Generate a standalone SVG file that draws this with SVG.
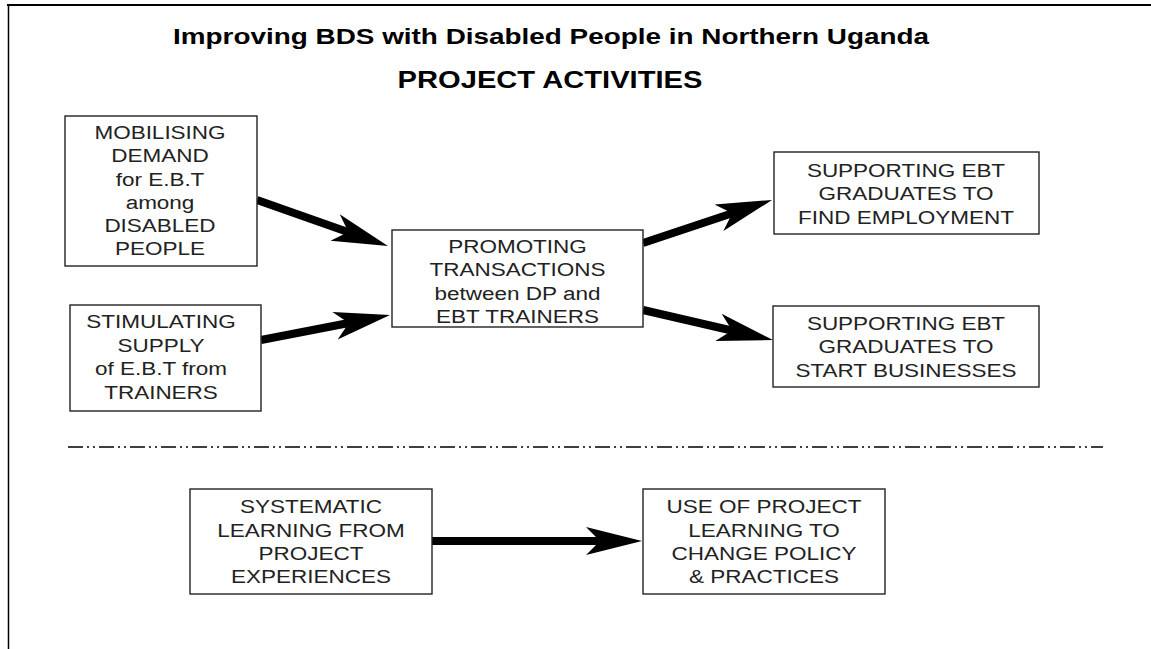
<svg xmlns="http://www.w3.org/2000/svg" width="1151" height="649" viewBox="0 0 1151 649">
  <style>
    .box { fill: #fff; stroke: #222; stroke-width: 1.4; }
    .lbl { font-family: "Liberation Sans", Arial, sans-serif; font-size: 18px; fill: #222; text-anchor: middle; }
    .ttl { font-family: "Liberation Sans", Arial, sans-serif; font-weight: bold; fill: #000; text-anchor: middle; }
    .arrow { stroke: #000; stroke-width: 8; fill: none; marker-end: url(#head); }
    .frame { stroke: #000; fill: none; }
  </style>
  <defs>
    <marker id="head" markerUnits="userSpaceOnUse" markerWidth="56" markerHeight="32" viewBox="0 0 56 32" refX="18" refY="16" orient="auto">
      <path d="M0,2 L56,16 L0,30 L14,16 Z" fill="#000"/>
    </marker>
  </defs>

  <rect width="1151" height="649" fill="#fff"/>

  <!-- page frame -->
  <line class="frame" x1="7" y1="5" x2="1151" y2="5" stroke-width="2.2"/>
  <line class="frame" x1="8.5" y1="4" x2="8.5" y2="649" stroke-width="1.5"/>

  <!-- headings -->
  <g id="title">
    <g transform="translate(551 0) scale(1.24 1)">
      <text class="ttl" x="0" y="44" font-size="22.5">Improving BDS with Disabled People in Northern Uganda</text>
    </g>
    <g transform="translate(550 0) scale(1.24 1)">
      <text class="ttl" x="0" y="88" font-size="23.5">PROJECT ACTIVITIES</text>
    </g>
  </g>

  <!-- connectors -->
  <g id="connectors">
    <line class="arrow" x1="257" y1="200" x2="352.1" y2="233.4"/>
    <line class="arrow" x1="261" y1="340" x2="352.7" y2="322.3"/>
    <line class="arrow" x1="643" y1="243" x2="736" y2="212"/>
    <line class="arrow" x1="643" y1="310" x2="736" y2="331.5"/>
    <line class="arrow" x1="432" y1="541" x2="604" y2="541"/>
  </g>

  <!-- section divider -->
  <line x1="68" y1="447" x2="1103" y2="447" stroke="#000" stroke-width="1.5" stroke-dasharray="15 4 2 4 2 4"/>

  <g id="mobilising">
    <rect class="box" x="65" y="116" width="192" height="150"/>
    <g transform="translate(160 0) scale(1.25 1)">
      <text class="lbl" x="0" y="139">MOBILISING</text>
      <text class="lbl" x="0" y="162.5">DEMAND</text>
      <text class="lbl" x="0" y="186">for E.B.T</text>
      <text class="lbl" x="0" y="209">among</text>
      <text class="lbl" x="0" y="232">DISABLED</text>
      <text class="lbl" x="0" y="255.5">PEOPLE</text>
    </g>
  </g>

  <g id="stimulating">
    <rect class="box" x="70" y="305" width="191" height="106"/>
    <g transform="translate(161 0) scale(1.25 1)">
      <text class="lbl" x="0" y="328">STIMULATING</text>
      <text class="lbl" x="0" y="352">SUPPLY</text>
      <text class="lbl" x="0" y="375.5">of E.B.T from</text>
      <text class="lbl" x="0" y="399">TRAINERS</text>
    </g>
  </g>

  <g id="promoting">
    <rect class="box" x="392" y="230" width="251" height="97"/>
    <g transform="translate(517.5 0) scale(1.25 1)">
      <text class="lbl" x="0" y="253">PROMOTING</text>
      <text class="lbl" x="0" y="276.5">TRANSACTIONS</text>
      <text class="lbl" x="0" y="300">between DP and</text>
      <text class="lbl" x="0" y="323">EBT TRAINERS</text>
    </g>
  </g>

  <g id="employment">
    <rect class="box" x="774" y="152" width="265" height="82"/>
    <g transform="translate(906 0) scale(1.25 1)">
      <text class="lbl" x="0" y="177.5">SUPPORTING EBT</text>
      <text class="lbl" x="0" y="200.5">GRADUATES TO</text>
      <text class="lbl" x="0" y="224">FIND EMPLOYMENT</text>
    </g>
  </g>

  <g id="businesses">
    <rect class="box" x="773" y="306" width="266" height="81"/>
    <g transform="translate(906 0) scale(1.25 1)">
      <text class="lbl" x="0" y="330">SUPPORTING EBT</text>
      <text class="lbl" x="0" y="353">GRADUATES TO</text>
      <text class="lbl" x="0" y="377">START BUSINESSES</text>
    </g>
  </g>

  <g id="learning">
    <rect class="box" x="190" y="489" width="242" height="105"/>
    <g transform="translate(311 0) scale(1.25 1)">
      <text class="lbl" x="0" y="513">SYSTEMATIC</text>
      <text class="lbl" x="0" y="537">LEARNING FROM</text>
      <text class="lbl" x="0" y="560">PROJECT</text>
      <text class="lbl" x="0" y="583">EXPERIENCES</text>
    </g>
  </g>

  <g id="policy">
    <rect class="box" x="643" y="489" width="242" height="105"/>
    <g transform="translate(764 0) scale(1.25 1)">
      <text class="lbl" x="0" y="513">USE OF PROJECT</text>
      <text class="lbl" x="0" y="537">LEARNING TO</text>
      <text class="lbl" x="0" y="560">CHANGE POLICY</text>
      <text class="lbl" x="0" y="583">&amp; PRACTICES</text>
    </g>
  </g>
</svg>
